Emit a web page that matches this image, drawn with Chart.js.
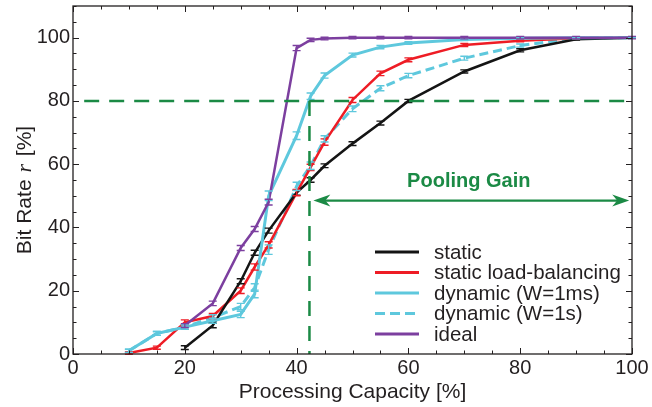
<!DOCTYPE html>
<html><head><meta charset="utf-8">
<script src="https://cdn.jsdelivr.net/npm/chart.js@4.4.1/dist/chart.umd.min.js"></script>
<style>html,body{margin:0;padding:0;background:#fff;}#wrap{width:652px;height:407px;}</style>
</head><body><div id="wrap"><canvas id="c" width="652" height="407"></canvas></div>
<script>
// ---- data ----
const xTicks = [0, 20, 40, 60, 80, 100];
const yTicks = [0, 20, 40, 60, 80, 100];

const staticX = [20, 25, 30, 32.5, 35, 40, 42.5, 45, 50, 55, 60, 70, 80, 90, 100];
const staticY = [2, 9, 23, 32, 39, 51, 55, 59.5, 66.5, 73, 80, 89.3, 96, 99.5, 100];
const staticErr = [0.6, 0.7, 0.8, 0.8, 0.8, 0.8, 0.7, 0.6, 0.6, 0.6, 0.5, 0.5, 0.5, 0.3, 0.2];

const lbX = [10, 15, 20, 25, 30, 32.5, 35, 40, 42.5, 45, 50, 55, 60, 70, 80, 90, 100];
const lbY = [0.3, 2, 10, 12, 20, 27.5, 34.5, 51, 59, 67, 80.3, 88.7, 93, 97.7, 99, 99.8, 100];
const lbErr = [0.4, 0.5, 0.8, 0.8, 0.9, 1.0, 1.0, 1.0, 1.0, 1.0, 0.8, 0.7, 0.6, 0.5, 0.3, 0.2, 0.1];

const dynMsX = [10, 15, 20, 25, 30, 32.5, 35, 40, 42.5, 45, 50, 55, 60, 70, 80, 90, 100];
const dynMsY = [1, 6.5, 8.5, 10.5, 12.5, 19, 50, 69, 81.5, 88, 94.5, 97, 98.3, 99.4, 99.8, 100, 100];
const dynMsErr = [0.5, 0.6, 0.7, 0.8, 1.0, 1.2, 1.5, 1.2, 1.0, 0.8, 0.6, 0.5, 0.4, 0.3, 0.2, 0.1, 0.1];

const dynSX = [10, 15, 20, 25, 30, 32.5, 35, 40, 42.5, 45, 50, 55, 60, 70, 80, 90, 100];
const dynSY = [1, 6.5, 8.5, 11.5, 15, 21, 33, 53, 59.5, 68, 77.5, 84, 88, 93.5, 97.5, 99.8, 100];
const dynSErr = [0.5, 0.6, 0.7, 0.9, 1.0, 1.2, 1.5, 1.3, 1.2, 1.0, 0.9, 0.8, 0.7, 0.6, 0.5, 0.2, 0.1];

const idealX = [20, 25, 30, 32.5, 35, 40, 42.5, 45, 50, 55, 60, 70, 80, 90, 100];
const idealY = [9, 16, 33.5, 39.5, 48, 96.7, 99.3, 99.7, 100, 100, 100, 100, 100, 100, 100];
const idealErr = [0.6, 0.7, 0.8, 0.8, 0.9, 0.8, 0.5, 0.4, 0.4, 0.4, 0.4, 0.4, 0.4, 0.4, 0.4];

const seriesLabels = ['static', 'static load-balancing', 'dynamic (W=1ms)', 'dynamic (W=1s)', 'ideal'];

// annotation positions (data units)
const targetRate = 80;
const targetCapacity = 42.3;
const gainArrowY = 48.5;
const gainArrowFrom = 43;
const gainArrowTo = 99.5;
const gainText = 'Pooling Gain';
const gainTextX = 70.8;
const gainTextY = 54.5;

// ---- styling ----
const FONT = "'Liberation Sans', Arial, Helvetica, sans-serif";
const SERIF = "'Liberation Serif', 'Times New Roman', serif";
const TXT = '#231f20';
const GREEN = '#1b8a45';
const C_BLACK = '#141414', C_RED = '#ee1c25', C_CYAN = '#5ec8dd', C_PURPLE = '#7c3f9f';

const pts = (xs, ys) => xs.map((x, i) => ({x: x, y: ys[i]}));

function ds(label, xs, ys, err, color, dash, order, width) {
  return {
    label: label, data: pts(xs, ys), err: err,
    borderColor: color, backgroundColor: color,
    borderWidth: width, borderDash: dash, pointRadius: 0, pointHoverRadius: 0,
    tension: 0, fill: false, order: order
  };
}

const datasets = [
  ds(seriesLabels[0], staticX, staticY, staticErr, C_BLACK, [], 3, 2.5),
  ds(seriesLabels[1], lbX, lbY, lbErr, C_RED, [], 4, 2.5),
  ds(seriesLabels[2], dynMsX, dynMsY, dynMsErr, C_CYAN, [], 2, 3),
  ds(seriesLabels[3], dynSX, dynSY, dynSErr, C_CYAN, [9, 5], 5, 3),
  ds(seriesLabels[4], idealX, idealY, idealErr, C_PURPLE, [], 1, 2.5)
];

const errorBars = {
  id: 'errorBars',
  afterDatasetsDraw(chart) {
    const ctx = chart.ctx, xs = chart.scales.x, ys = chart.scales.y;
    ctx.save();
    chart.data.datasets.forEach(d => {
      ctx.strokeStyle = d.borderColor; ctx.lineWidth = 1.4; ctx.setLineDash([]);
      d.data.forEach((p, i) => {
        const e = d.err[i];
        const px = xs.getPixelForValue(p.x);
        const y1 = ys.getPixelForValue(p.y - e), y2 = ys.getPixelForValue(p.y + e);
        ctx.beginPath();
        ctx.moveTo(px, y1); ctx.lineTo(px, y2);
        ctx.moveTo(px - 4, y1); ctx.lineTo(px + 4, y1);
        ctx.moveTo(px - 4, y2); ctx.lineTo(px + 4, y2);
        ctx.stroke();
      });
    });
    ctx.restore();
  }
};

const frameAndTicks = {
  id: 'frameAndTicks',
  afterDraw(chart) {
    const ctx = chart.ctx, xs = chart.scales.x, ys = chart.scales.y, a = chart.chartArea;
    ctx.save();
    ctx.strokeStyle = TXT; ctx.lineWidth = 1.3; ctx.setLineDash([]);
    ctx.strokeRect(a.left, a.top, a.right - a.left, a.bottom - a.top);
    ctx.lineWidth = 1;
    ctx.beginPath();
    for (let v = xs.min; v <= xs.max + 1e-9; v += 5) {
      const px = Math.round(xs.getPixelForValue(v)) + 0.5;
      const len = (v % 20 === 0) ? 6 : 3.5;
      ctx.moveTo(px, a.bottom); ctx.lineTo(px, a.bottom - len);
      ctx.moveTo(px, a.top); ctx.lineTo(px, a.top + len);
    }
    for (let v = ys.min; v <= ys.max + 1e-9; v += 5) {
      const py = Math.round(ys.getPixelForValue(v)) + 0.5;
      const len = (v % 20 === 0 && v <= 100) ? 6 : 3.5;
      ctx.moveTo(a.left, py); ctx.lineTo(a.left + len, py);
      ctx.moveTo(a.right, py); ctx.lineTo(a.right - len, py);
    }
    ctx.stroke();

    // axis titles
    ctx.fillStyle = TXT;
    ctx.font = '21px ' + FONT;
    ctx.textAlign = 'center'; ctx.textBaseline = 'middle';
    ctx.fillText('Processing Capacity [%]', (a.left + a.right) / 2, 392);

    // y title with italic r
    const p1 = 'Bit Rate ', p2 = 'r', p3 = ' [%]';
    const fN = '21px ' + FONT, fI = 'italic 22px ' + SERIF;
    ctx.font = fN; const w1 = ctx.measureText(p1).width, w3 = ctx.measureText(p3).width;
    ctx.font = fI; const w2 = ctx.measureText(p2).width + 3;
    const tot = w1 + w2 + w3;
    ctx.translate(25, 190);
    ctx.rotate(-Math.PI / 2);
    ctx.textAlign = 'left';
    let x0 = -tot / 2;
    ctx.font = fN; ctx.fillText(p1, x0, 0); x0 += w1;
    ctx.font = fI; ctx.fillText(p2, x0 + 1, 0); x0 += w2;
    ctx.font = fN; ctx.fillText(p3, x0, 0);
    ctx.restore();

    // legend
    ctx.save();
    const rows = [252, 272.5, 293, 313.5, 334];
    chart.data.datasets.forEach((d, i) => {
      const y = rows[i];
      ctx.strokeStyle = d.borderColor; ctx.lineWidth = 3;
      ctx.setLineDash(d.borderDash && d.borderDash.length ? [10, 5] : []);
      ctx.beginPath(); ctx.moveTo(375, y); ctx.lineTo(419, y); ctx.stroke();
      ctx.setLineDash([]);
      ctx.fillStyle = TXT; ctx.font = '20.5px ' + FONT;
      ctx.textAlign = 'left'; ctx.textBaseline = 'middle';
      ctx.fillText(d.label, 434, y + 1);
    });
    ctx.restore();
  }
};

const gainAnnotation = {
  id: 'gainAnnotation',
  afterDatasetsDraw(chart) {
    const ctx = chart.ctx, xs = chart.scales.x, ys = chart.scales.y;
    ctx.save();
    ctx.strokeStyle = GREEN; ctx.fillStyle = GREEN; ctx.lineWidth = 2.5;
    ctx.setLineDash([15, 10]);
    const y80 = ys.getPixelForValue(targetRate);
    ctx.beginPath();
    ctx.moveTo(xs.getPixelForValue(2), y80); ctx.lineTo(xs.getPixelForValue(100), y80);
    ctx.stroke();
    const xv = xs.getPixelForValue(targetCapacity);
    ctx.beginPath();
    ctx.moveTo(xv, y80); ctx.lineTo(xv, ys.getPixelForValue(0));
    ctx.stroke();
    ctx.setLineDash([]);
    const ya = ys.getPixelForValue(gainArrowY);
    const xa = xs.getPixelForValue(gainArrowFrom), xb = xs.getPixelForValue(gainArrowTo);
    ctx.lineWidth = 2.2;
    ctx.beginPath(); ctx.moveTo(xa + 8, ya); ctx.lineTo(xb - 8, ya); ctx.stroke();
    ctx.beginPath(); ctx.moveTo(xa, ya); ctx.lineTo(xa + 17, ya - 6); ctx.lineTo(xa + 12, ya); ctx.lineTo(xa + 17, ya + 6); ctx.closePath(); ctx.fill();
    ctx.beginPath(); ctx.moveTo(xb, ya); ctx.lineTo(xb - 17, ya - 6); ctx.lineTo(xb - 12, ya); ctx.lineTo(xb - 17, ya + 6); ctx.closePath(); ctx.fill();
    ctx.font = 'bold 20px ' + FONT;
    ctx.textAlign = 'center'; ctx.textBaseline = 'middle';
    ctx.fillText(gainText, xs.getPixelForValue(gainTextX), ys.getPixelForValue(gainTextY));
    ctx.restore();
  }
};

new Chart(document.getElementById('c'), {
  type: 'line',
  data: { datasets: datasets },
  options: {
    responsive: false, animation: false, devicePixelRatio: 1,
    layout: { padding: { top: 6, right: 20, left: 0, bottom: 0 } },
    plugins: { legend: { display: false }, tooltip: { enabled: false } },
    scales: {
      x: {
        type: 'linear', min: 0, max: 100,
        grid: { display: false, drawTicks: false, tickLength: 0 }, border: { display: false },
        afterBuildTicks: s => { s.ticks = xTicks.map(v => ({value: v})); },
        afterFit: s => { s.height = 53; s.paddingLeft = 0; s.paddingRight = 0; },
        ticks: { color: TXT, font: { family: FONT, size: 20 }, padding: 2, maxRotation: 0, autoSkip: false }
      },
      y: {
        type: 'linear', min: 0, max: 110,
        grid: { display: false, drawTicks: false, tickLength: 0 }, border: { display: false },
        afterBuildTicks: s => { s.ticks = yTicks.map(v => ({value: v})); },
        afterFit: s => { s.width = 73; s.paddingTop = 0; s.paddingBottom = 0; },
        ticks: { color: TXT, font: { family: FONT, size: 20 }, padding: 3, autoSkip: false }
      }
    }
  },
  plugins: [errorBars, gainAnnotation, frameAndTicks]
});
</script></body></html>
